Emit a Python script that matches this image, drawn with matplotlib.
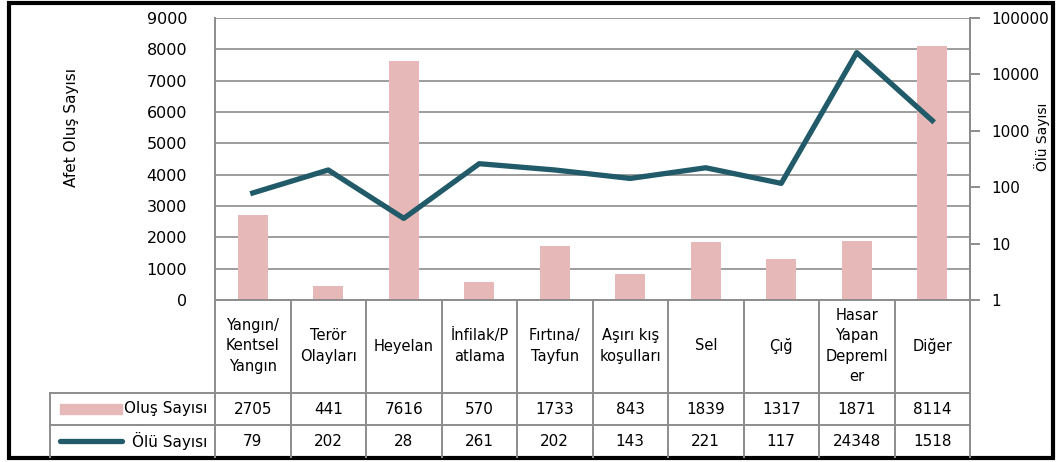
import matplotlib.pyplot as plt
from matplotlib.patches import Rectangle
from matplotlib.lines import Line2D
from matplotlib.transforms import blended_transform_factory
from matplotlib.ticker import FixedLocator, NullLocator

# Données du graphique
kategoriler = ['Yangın/\nKentsel\nYangın', 'Terör\nOlayları', 'Heyelan', 'İnfilak/P\natlama',
               'Fırtına/\nTayfun', 'Aşırı kış\nkoşulları', 'Sel', 'Çığ',
               'Hasar\nYapan\nDepreml\ner', 'Diğer']
olus_sayisi = [2705, 441, 7616, 570, 1733, 843, 1839, 1317, 1871, 8114]
olu_sayisi = [79, 202, 28, 261, 202, 143, 221, 117, 24348, 1518]
sol_ticks = list(range(0, 9001, 1000))
sag_ticks = [1, 10, 100, 1000, 10000, 100000]

pembe = '#E6B9B8'
koyu = '#215A68'
gri = '#8C8C8C'

W, H = 1059, 462
plt.rcParams['font.family'] = ['DejaVu Sans']
plt.rcParams['font.size'] = 11

fig = plt.figure(figsize=(W / 100, H / 100), dpi=100)
ax = fig.add_axes([215 / W, 1 - 300 / H, 755 / W, 282 / H])

x = list(range(len(kategoriler)))
ax.bar(x, olus_sayisi, width=0.4, color=pembe, zorder=2)
ax.set_xlim(-0.5, len(kategoriler) - 0.5)
ax.set_ylim(0, 9000)
ax.set_yticks(sol_ticks)
ax.set_xticks([])
ax.tick_params(axis='y', length=0, pad=20, labelsize=11.5)
ax.grid(axis='y', color=gri, lw=1.2, zorder=0)
ax.set_axisbelow(True)
for s in ['left', 'bottom', 'right']:
    ax.spines[s].set_color(gri)
    ax.spines[s].set_linewidth(1.4)
ax.spines['top'].set_visible(False)
ax.set_ylabel('Afet Oluş Sayısı', fontsize=11)
ax.yaxis.set_label_coords(-136 / 755, 0.61)

# Ölü sayısı - logaritmik ikinci eksen
ax2 = ax.twinx()
ax2.plot(x, olu_sayisi, color=koyu, lw=3.8, zorder=3)
ax2.set_yscale('log')
ax2.set_ylim(1, 100000)
ax2.yaxis.set_major_locator(FixedLocator(sag_ticks))
ax2.yaxis.set_minor_locator(NullLocator())
ax2.set_yticklabels([str(t) for t in sag_ticks])
ax2.tick_params(axis='y', length=7, color=gri, width=1.4, pad=8, labelsize=11)
for s in ['left', 'bottom', 'top']:
    ax2.spines[s].set_visible(False)
ax2.spines['right'].set_color(gri)
ax2.spines['right'].set_linewidth(1.4)
ax2.set_ylabel('Ölü Sayısı', fontsize=10, rotation=90)
ax2.yaxis.set_label_coords(1 + 64 / 755, 0.58)

# Tablo (veri tablosu)
tr = blended_transform_factory(ax.transData, fig.transFigure)
ftr = fig.transFigure
def fy(p):
    return 1 - p / H

sol, sag = 50 / W, 970 / W
for yy in [393, 425]:
    fig.add_artist(Line2D([sol, sag], [fy(yy), fy(yy)], color=gri, lw=1.4, transform=ftr))
fig.add_artist(Line2D([sol, sol], [fy(393), fy(457)], color=gri, lw=1.4, transform=ftr))
fig.add_artist(Line2D([sag, sag], [fy(300), fy(457)], color=gri, lw=1.4, transform=ftr))
for i in range(len(kategoriler)):
    fig.add_artist(Line2D([i - 0.5, i - 0.5], [fy(300), fy(457)], color=gri, lw=1.4, transform=tr))
    fig.text(i, fy(346), kategoriler[i], transform=tr, ha='center', va='center',
             linespacing=1.45, fontsize=10.5)
    fig.text(i, fy(409), str(olus_sayisi[i]), transform=tr, ha='center', va='center', fontsize=11)
    fig.text(i, fy(441), str(olu_sayisi[i]), transform=tr, ha='center', va='center', fontsize=11)

# Lejant anahtarları
fig.add_artist(Rectangle((60 / W, fy(414)), 62 / W, 10 / H, color=pembe, transform=ftr))
fig.text(207 / W, fy(409), 'Oluş Sayısı', ha='right', va='center', fontsize=11)
fig.add_artist(Line2D([60 / W, 122 / W], [fy(441), fy(441)], color=koyu, lw=3.8, transform=ftr,
                      solid_capstyle='round'))
fig.text(207 / W, fy(441), 'Ölü Sayısı', ha='right', va='center', fontsize=11)

# Dış çerçeve
fig.add_artist(Rectangle((9 / W, fy(458)), 1044 / W, 455 / H, fill=False, ec='black', lw=3,
                         transform=ftr))

fig.savefig('out.png', dpi=100)
